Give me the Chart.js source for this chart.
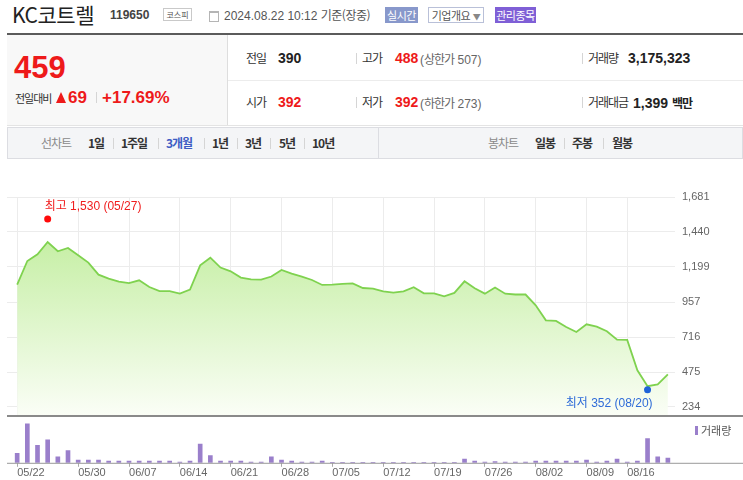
<!DOCTYPE html>
<html lang="ko">
<head>
<meta charset="utf-8">
<script src="https://cdn.jsdelivr.net/npm/chart.js@4.4.1/dist/chart.umd.min.js"></script>
<style>
body{margin:0;width:743px;height:480px;overflow:hidden;background:#fff;position:relative;
  font-family:"Liberation Sans",Arial,"Noto Sans CJK KR",sans-serif;color:#333}
.a{position:absolute;white-space:nowrap}
.k{font-family:"Noto Sans CJK KR",sans-serif;letter-spacing:-1px}
.b{font-weight:bold}
.red{color:#ee1a1a}
.sep{position:absolute;width:1px;height:11px;background:#d5d5d5}
.btn{position:absolute;height:16px;line-height:16px;font-size:11px;text-align:center;font-family:"Noto Sans CJK KR",sans-serif;letter-spacing:-0.5px}
canvas{position:absolute;left:0}
</style>
</head>
<body>
<!-- title row -->
<div class="a k" style="left:12px;top:1px;font-size:21px;line-height:26px;color:#222;letter-spacing:-0.5px">KC코트렐</div>
<div class="a b" style="left:110px;top:7px;font-size:12px;line-height:16px;color:#444">119650</div>
<div class="a k" style="left:163px;top:8px;width:27px;height:11px;border:1px solid #c9c9c9;font-size:8px;line-height:11px;text-align:center;color:#555;letter-spacing:0">코스피</div>
<div class="a" style="left:209px;top:11px;width:8px;height:8px;border:1px solid #b5b5b5;border-top-width:2px"></div>
<div class="a" style="left:224px;top:7px;font-size:12px;line-height:16px;color:#555">2024.08.22 10:12 <span class="k" style="letter-spacing:-0.5px">기준(장중)</span></div>
<div class="btn" style="left:385px;top:7px;width:33px;background:#8898cb;color:#fff">실시간</div>
<div class="btn" style="left:428px;top:7px;width:54px;height:14px;line-height:14px;border:1px solid #b9c0d8;color:#555">기업개요 <span style="font-size:8px;color:#888">▼</span></div>
<div class="btn" style="left:495px;top:7px;width:41px;background:#7f5fd6;color:#fff">관리종목</div>

<!-- quote box -->
<div class="a" style="left:7px;top:33px;width:736px;height:2px;background:#5b5b5b"></div>
<div class="a" style="left:7px;top:35px;width:220px;height:90px;background:#f8f8f8;border-right:1px solid #dedede"></div>
<div class="a" style="left:228px;top:80px;width:515px;height:1px;background:#ececec"></div>
<div class="a" style="left:7px;top:125px;width:736px;height:1px;background:#e4e4e4"></div>

<div class="a b red" style="left:14px;top:50px;font-size:31px;line-height:36px">459</div>
<div class="a k" style="left:15px;top:91px;font-size:11px;line-height:14px;color:#333">전일대비</div>
<div class="a" style="left:56px;top:92px;width:0;height:0;border-left:5.5px solid transparent;border-right:5.5px solid transparent;border-bottom:11px solid #ee1a1a"></div>
<div class="a b red" style="left:68px;top:88px;font-size:17px;line-height:20px">69</div>
<div class="sep" style="left:96px;top:92px"></div>
<div class="a b red" style="left:102px;top:88px;font-size:17px;line-height:20px">+17.69%</div>

<div class="a k" style="left:246px;top:50px;font-size:12px;line-height:16px">전일</div>
<div class="a b" style="left:278px;top:50px;font-size:14px;line-height:17px;color:#222">390</div>
<div class="sep" style="left:356px;top:53px"></div>
<div class="a k" style="left:362px;top:50px;font-size:12px;line-height:16px">고가</div>
<div class="a b red" style="left:395px;top:50px;font-size:14px;line-height:17px">488</div>
<div class="a" style="left:420px;top:50px;font-size:12px;line-height:17px;color:#666">(<span class="k">상한가</span> 507)</div>
<div class="sep" style="left:582px;top:53px"></div>
<div class="a k" style="left:588px;top:50px;font-size:12px;line-height:16px">거래량</div>
<div class="a b" style="left:628px;top:50px;font-size:14px;line-height:17px;color:#222">3,175,323</div>

<div class="a k" style="left:246px;top:94px;font-size:12px;line-height:16px">시가</div>
<div class="a b red" style="left:278px;top:94px;font-size:14px;line-height:17px">392</div>
<div class="sep" style="left:356px;top:97px"></div>
<div class="a k" style="left:362px;top:94px;font-size:12px;line-height:16px">저가</div>
<div class="a b red" style="left:395px;top:94px;font-size:14px;line-height:17px">392</div>
<div class="a" style="left:420px;top:94px;font-size:12px;line-height:17px;color:#666">(<span class="k">하한가</span> 273)</div>
<div class="sep" style="left:582px;top:97px"></div>
<div class="a k" style="left:588px;top:94px;font-size:12px;line-height:16px">거래대금</div>
<div class="a b" style="left:633px;top:94px;font-size:14px;line-height:17px;color:#222">1,399 <span class="k" style="font-size:12px">백만</span></div>

<!-- period tabs -->
<div class="a" style="left:7px;top:127px;width:734px;height:30px;background:#f4f5f7;border:1px solid #dcdde2"></div>
<div class="a" style="left:378px;top:128px;width:1px;height:30px;background:#dcdde2"></div>
<div class="a k" style="left:41px;top:135px;font-size:12px;line-height:16px;color:#8a8a8a">선차트</div>
<div class="a k b" style="left:88px;top:135px;font-size:12px;line-height:16px">1일</div>
<div class="sep" style="left:113px;top:138px"></div>
<div class="a k b" style="left:121px;top:135px;font-size:12px;line-height:16px">1주일</div>
<div class="sep" style="left:158px;top:138px"></div>
<div class="a k b" style="left:166px;top:135px;font-size:12px;line-height:16px;color:#3d5cc4">3개월</div>
<div class="sep" style="left:204px;top:138px"></div>
<div class="a k b" style="left:212px;top:135px;font-size:12px;line-height:16px">1년</div>
<div class="sep" style="left:237px;top:138px"></div>
<div class="a k b" style="left:245px;top:135px;font-size:12px;line-height:16px">3년</div>
<div class="sep" style="left:270px;top:138px"></div>
<div class="a k b" style="left:279px;top:135px;font-size:12px;line-height:16px">5년</div>
<div class="sep" style="left:304px;top:138px"></div>
<div class="a k b" style="left:312px;top:135px;font-size:12px;line-height:16px">10년</div>
<div class="a k" style="left:488px;top:135px;font-size:12px;line-height:16px;color:#8a8a8a">봉차트</div>
<div class="a k b" style="left:535px;top:135px;font-size:12px;line-height:16px">일봉</div>
<div class="sep" style="left:564px;top:138px"></div>
<div class="a k b" style="left:572px;top:135px;font-size:12px;line-height:16px">주봉</div>
<div class="sep" style="left:603px;top:138px"></div>
<div class="a k b" style="left:612px;top:135px;font-size:12px;line-height:16px">월봉</div>

<canvas id="price" width="743" height="237" style="top:180px"></canvas>
<canvas id="vol" width="743" height="63" style="top:417px"></canvas>

<script>
// trading days, 2024
const dates = [
  '05/22','05/23','05/24','05/27','05/28','05/29','05/30','05/31',
  '06/03','06/04','06/05','06/07','06/10','06/11','06/12','06/13','06/14','06/17','06/18','06/19','06/20','06/21','06/24','06/25','06/26','06/27','06/28',
  '07/01','07/02','07/03','07/04','07/05','07/08','07/09','07/10','07/11','07/12','07/15','07/16','07/17','07/18','07/19','07/22','07/23','07/24','07/25','07/26','07/29','07/30','07/31',
  '08/01','08/02','08/05','08/06','08/07','08/08','08/09','08/12','08/13','08/14','08/16','08/19','08/20','08/21','08/22'
];
// closing price (won)
const closes = [
  1077,1240,1286,1371,1307,1330,1279,1229,1146,1119,
  1098,1088,1107,1061,1033,1033,1015,1043,1210,1263,
  1195,1169,1126,1114,1112,1133,1178,1153,1133,1109,
  1075,1077,1082,1086,1054,1050,1031,1022,1031,1059,
  1017,1017,997,1020,1100,1052,1015,1057,1015,1009,
  1009,935,831,827,785,751,804,788,756,698,
  696,487,377,390,459
];
// volume (thousand shares)
const volumes = [
  6300,26100,11700,15300,4000,8100,1800,1800,1800,1100,
  1100,1100,1100,1100,1100,1100,500,1100,12600,4900,
  1100,1100,1100,500,500,4000,1800,1100,500,500,
  1100,300,300,300,300,300,300,300,300,300,
  300,300,300,300,2500,1100,500,900,500,500,
  500,1100,1100,1100,1100,1100,1800,500,1100,2500,
  500,1100,16200,4000,3175
];
const tickDates = ['05/22','05/30','06/07','06/14','06/21','06/28','07/05','07/12','07/19','07/26','08/02','08/09','08/16'];
const priceTicks = [234, 475, 716, 957, 1199, 1440, 1681];
const highMark = { label: '최고', date: '05/27', value: 1530 };
const lowMark = { label: '최저', date: '08/20', value: 352 };
const volumeLabel = '거래량';

const fmt = v => v.toLocaleString('en-US');
const xTicks = scale => { scale.ticks = tickDates.map(d => ({ value: dates.indexOf(d) })); };

const markLabels = {
    id: 'markLabels',
    afterDatasetsDraw(chart) {
        const pts = chart.getDatasetMeta(1).data;
        const ctx = chart.ctx;
        ctx.save();
        ctx.font = '12px "Liberation Sans", "Noto Sans CJK KR"';
        ctx.textBaseline = 'middle';
        ctx.fillStyle = '#f01d1d';
        ctx.textAlign = 'left';
        ctx.fillText(highMark.label + ' ' + fmt(highMark.value) + ' (' + highMark.date + ')', pts[0].x - 3, pts[0].y - 12);
        ctx.fillStyle = '#2f6cd8';
        ctx.textAlign = 'right';
        ctx.fillText(lowMark.label + ' ' + fmt(lowMark.value) + ' (' + lowMark.date + ')', pts[1].x + 5, pts[1].y + 14);
        // divider between price and volume panes
        ctx.strokeStyle = '#8a8a8a';
        ctx.lineWidth = 2;
        ctx.beginPath();
        ctx.moveTo(chart.chartArea.left, chart.chartArea.bottom - 1);
        ctx.lineTo(chart.width, chart.chartArea.bottom - 1);
        ctx.stroke();
        ctx.restore();
    }
};

const priceChart = new Chart(document.getElementById('price'), {
    type: 'line',
    data: {
        datasets: [{
            data: closes.map((v, i) => ({ x: i, y: v })),
            borderColor: '#7fd24f',
            borderWidth: 1.8,
            pointRadius: 0,
            tension: 0,
            fill: 'start',
            backgroundColor: function (c) {
                const a = c.chart.chartArea;
                if (!a) return 'rgba(190,238,150,0.6)';
                const g = c.chart.ctx.createLinearGradient(0, a.top, 0, a.bottom);
                g.addColorStop(0, '#b9eb91');
                g.addColorStop(1, '#fbfef7');
                return g;
            }
        }, {
            data: [
                { x: dates.indexOf(highMark.date), y: highMark.value },
                { x: dates.indexOf(lowMark.date), y: lowMark.value }
            ],
            order: -1,
            showLine: false,
            pointRadius: 3.5,
            pointBorderWidth: 0,
            pointBackgroundColor: ['#ff0a0a', '#1f63d8'],
            clip: false
        }]
    },
    options: {
        animation: false,
        responsive: false,
        layout: { autoPadding: false, padding: { left: 7, top: 17, bottom: 0 } },
        plugins: { legend: { display: false }, tooltip: { enabled: false } },
        scales: {
            x: {
                type: 'linear', min: -1, max: dates.length - 0.3,
                afterBuildTicks: xTicks,
                afterFit: s => { s.height = 0; s.paddingLeft = 0; s.paddingRight = 0; },
                ticks: { display: false },
                grid: { color: '#ececec', drawTicks: false },
                border: { display: false }
            },
            y: {
                position: 'right', min: 165, max: 1681,
                afterBuildTicks: s => { s.ticks = priceTicks.map(v => ({ value: v })); },
                afterFit: s => { s.width = 68; s.paddingTop = 0; s.paddingBottom = 0; },
                ticks: { color: '#666', padding: 7, font: { size: 11, family: '"Liberation Sans", Arial' }, callback: v => fmt(v) },
                grid: { color: '#ececec', drawTicks: false },
                border: { display: false }
            }
        }
    },
    plugins: [markLabels]
});

const volExtras = {
    id: 'volExtras',
    afterDraw(chart) {
        const ctx = chart.ctx, a = chart.chartArea;
        ctx.save();
        ctx.strokeStyle = '#999';
        ctx.lineWidth = 1;
        ctx.beginPath();
        ctx.moveTo(a.left, a.bottom + 0.5);
        ctx.lineTo(chart.width, a.bottom + 0.5);
        ctx.stroke();
        ctx.fillStyle = '#9a7fcb';
        ctx.fillRect(a.right + 20, 9, 3, 9);
        ctx.fillStyle = '#555';
        ctx.font = '11px "Noto Sans CJK KR"';
        ctx.textBaseline = 'middle';
        ctx.fillText(volumeLabel, a.right + 26, 14);
        ctx.restore();
    }
};

const volChart = new Chart(document.getElementById('vol'), {
    type: 'bar',
    data: {
        datasets: [{
            data: volumes.map((v, i) => ({ x: i, y: v })),
            backgroundColor: '#9a7fcb',
            barThickness: 4,
            borderWidth: 0
        }]
    },
    options: {
        animation: false,
        responsive: false,
        layout: { padding: { left: 7, right: 68, top: 1 } },
        plugins: { legend: { display: false }, tooltip: { enabled: false } },
        scales: {
            x: {
                type: 'linear', min: -1, max: dates.length - 0.3, offset: false,
                afterBuildTicks: xTicks,
                ticks: {
                    align: 'start', padding: 0, color: '#666', autoSkip: false, maxRotation: 0,
                    font: { size: 11, family: '"Liberation Sans", Arial' },
                    callback: v => dates[v]
                },
                grid: { drawOnChartArea: false, tickLength: 4, color: '#aaa', offset: false },
                border: { display: false }
            },
            y: { display: false, min: 0, max: 30000 }
        }
    },
    plugins: [volExtras]
});
</script>
</body>
</html>
